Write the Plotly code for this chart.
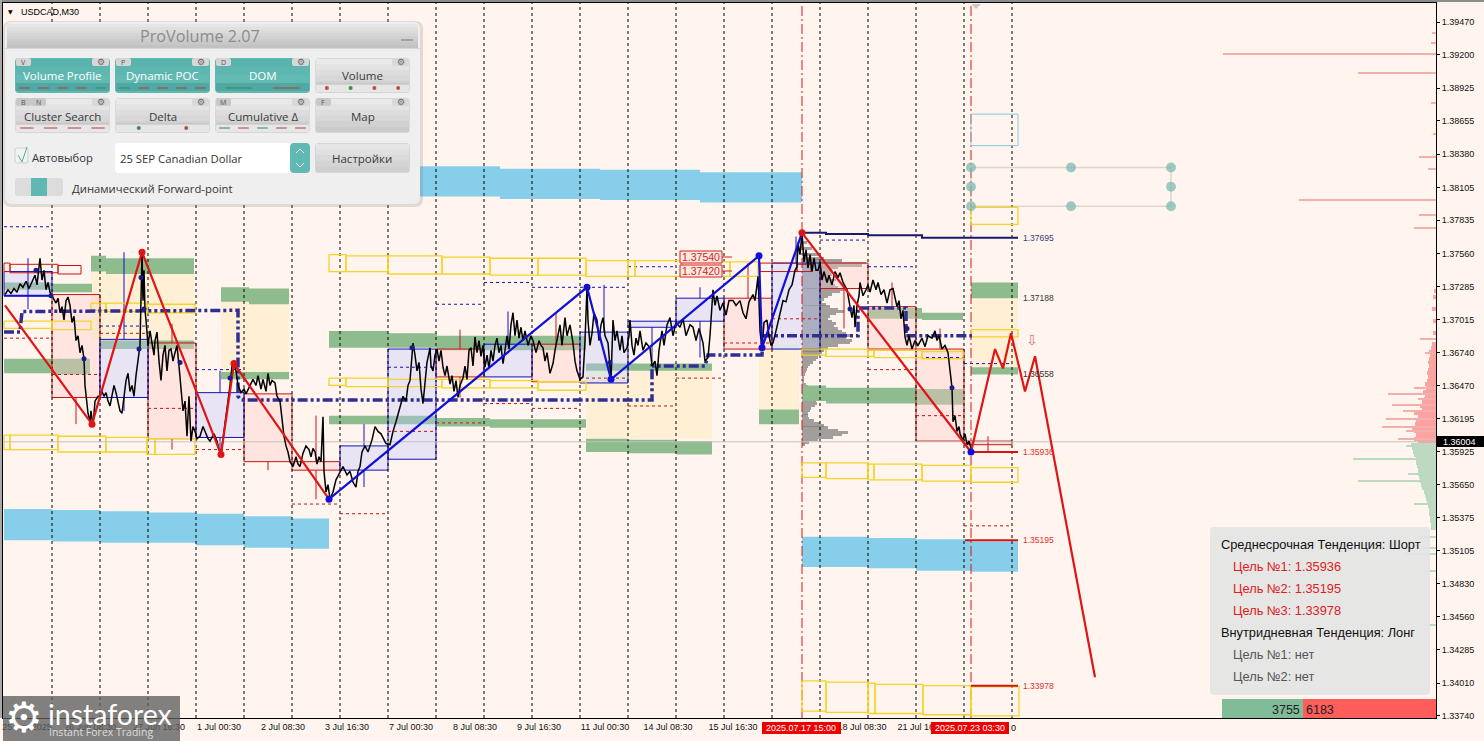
import plotly.graph_objects as go
import numpy as np

# ---------- DATA: x = M30 bar position on the chart, prices in pips (price*10000)
price_path = [(5,13722),(8,13726),(11,13723),(14,13727),(17,13724),(20,13731),(23,13728),(26,13733),(29,13727),(32,13732),(35,13738),(37,13730),(40,13752),(42,13734),(44,13742),(46,13726),(48,13732),(50,13724),(53,13719),(56,13715),(58,13719),(60,13707),(62,13712),(64,13701),(66,13717),(68,13720),(70,13713),(72,13699),(74,13704),(76,13684),(78,13688),(80,13674),(82,13680),(84,13669),(85,13647),(86,13638),(88,13624),(90,13617),(91,13626),(93,13613),(95,13634),(98,13638),(100,13638),(102,13642),(104,13638),(106,13641),(108,13634),(110,13630),(112,13638),(114,13647),(116,13641),(118,13634),(120,13626),(122,13624),(124,13636),(126,13651),(128,13657),(130,13642),(132,13647),(134,13638),(136,13655),(138,13667),(140,13680),(142,13757),(143,13717),(144,13742),(145,13709),(146,13701),(148,13680),(150,13692),(152,13682),(154,13672),(155,13684),(157,13691),(159,13667),(161,13651),(163,13672),(165,13680),(167,13659),(169,13676),(171,13677),(173,13667),(175,13674),(177,13680),(179,13663),(181,13647),(183,13626),(185,13634),(187,13605),(189,13638),(191,13601),(193,13613),(195,13609),(197,13603),(200,13605),(203,13613),(206,13607),(208,13603),(210,13601),(214,13607),(217,13601),(219,13594),(221,13590),(224,13609),(227,13626),(230,13647),(232,13663),(234,13665),(236,13659),(238,13647),(241,13641),(244,13644),(246,13640),(250,13647),(253,13652),(256,13647),(258,13655),(261,13644),(263,13652),(266,13642),(268,13657),(270,13647),(272,13651),(275,13649),(277,13638),(280,13634),(282,13617),(284,13605),(286,13597),(288,13592),(290,13584),(293,13580),(296,13588),(298,13582),(300,13580),(303,13591),(306,13597),(309,13594),(311,13588),(313,13595),(315,13592),(317,13582),(319,13588),(321,13584),(323,13621),(324,13576),(326,13559),(328,13565),(330,13553),(333,13559),(336,13569),(340,13576),(343,13580),(347,13573),(350,13576),(353,13567),(356,13563),(358,13576),(360,13580),(362,13592),(365,13597),(368,13592),(372,13602),(375,13613),(378,13609),(381,13607),(384,13602),(386,13599),(390,13598),(393,13609),(396,13617),(400,13630),(403,13638),(406,13634),(408,13647),(410,13651),(413,13682),(415,13672),(417,13659),(419,13666),(421,13644),(423,13632),(425,13651),(427,13666),(428,13670),(430,13678),(431,13663),(433,13659),(435,13672),(437,13677),(439,13667),(441,13676),(443,13662),(445,13655),(447,13663),(450,13648),(452,13655),(454,13642),(456,13651),(458,13637),(460,13647),(463,13653),(465,13663),(467,13652),(469,13676),(471,13678),(473,13663),(475,13687),(477,13674),(479,13684),(481,13671),(483,13680),(485,13662),(487,13672),(489,13661),(491,13676),(493,13667),(495,13680),(497,13686),(499,13674),(501,13680),(503,13665),(505,13676),(507,13688),(509,13677),(511,13697),(513,13707),(515,13688),(517,13701),(519,13686),(521,13695),(523,13684),(525,13692),(528,13680),(531,13688),(533,13684),(536,13674),(539,13684),(541,13680),(543,13678),(545,13667),(547,13674),(550,13657),(553,13665),(555,13676),(557,13684),(560,13697),(562,13680),(565,13703),(567,13688),(570,13697),(573,13682),(575,13667),(577,13659),(580,13652),(583,13654),(585,13684),(587,13728),(588,13701),(590,13680),(592,13690),(594,13707),(597,13701),(599,13684),(601,13697),(603,13703),(605,13688),(608,13682),(610,13663),(611,13652),(612,13676),(613,13701),(615,13684),(617,13692),(620,13676),(622,13688),(624,13674),(627,13678),(629,13688),(630,13701),(632,13680),(634,13672),(636,13686),(638,13680),(640,13692),(643,13676),(646,13682),(650,13678),(652,13663),(655,13667),(657,13655),(659,13676),(662,13692),(664,13680),(667,13697),(670,13703),(673,13688),(676,13699),(680,13695),(683,13702),(686,13688),(690,13697),(693,13695),(696,13684),(699,13694),(703,13682),(705,13667),(708,13670),(710,13688),(712,13717),(713,13726),(715,13713),(717,13721),(720,13709),(723,13715),(726,13705),(729,13717),(733,13717),(736,13713),(740,13717),(743,13707),(746,13702),(749,13716),(753,13722),(755,13717),(757,13730),(758,13737),(759,13717),(760,13692),(762,13678),(764,13699),(767,13701),(769,13688),(771,13680),(773,13682),(776,13692),(779,13702),(781,13711),(783,13717),(786,13716),(789,13726),(792,13730),(795,13742),(797,13745),(798,13765),(800,13755),(802,13773),(804,13749),(806,13759),(808,13744),(810,13755),(812,13741),(814,13752),(816,13742),(818,13742),(820,13749),(822,13734),(824,13741),(827,13732),(829,13738),(832,13730),(835,13741),(838,13736),(840,13740),(843,13732),(847,13726),(849,13717),(852,13703),(854,13713),(855,13695),(857,13713),(859,13721),(860,13732),(863,13721),(866,13726),(868,13730),(870,13724),(873,13734),(876,13726),(878,13732),(881,13722),(884,13726),(887,13715),(890,13726),(893,13727),(895,13719),(897,13712),(899,13717),(901,13702),(903,13709),(905,13687),(907,13680),(909,13688),(912,13677),(915,13684),(918,13680),(922,13686),(925,13679),(928,13688),(932,13686),(935,13692),(937,13684),(939,13688),(942,13677),(945,13680),(948,13674),(950,13659),(952,13645),(953,13617),(955,13622),(957,13609),(959,13613),(960,13607),(963,13602),(965,13607),(967,13598),(969,13601),(972,13592)]

red_zigzag  = [(5,13713),(92,13615),(142,13757),(221,13590),(234,13665),(329,13553)]
blue_zigzag = [(329,13553),(587,13728),(611,13652),(759,13754),(762,13678),(802,13773)]
red_down    = [(802,13773),(971,13592)]
forecast    = [(971,13592),(995,13677),(1003,13661),(1011,13690),(1025,13642),(1035,13671),(1095,13406)]
red_pivots  = [(92,13615),(142,13757),(221,13590),(234,13665),(802,13773)]
blue_pivots = [(329,13553),(587,13728),(611,13652),(759,13754),(762,13678),(971,13592)]
price_dots  = [(36,13742),(51,13721),(84,13669),(141,13736),(139,13677),(144,13710),(180,13666),(230,13653),(412,13678),(610,13666),(850,13710),(907,13694),(952,13645)]
poc_path    = [(4,13691),(20,13691),(22,13708),(238,13709),(238,13638),(241,13635),(652,13635),(652,13663),(705,13663),(708,13672),(762,13672),(763,13688),(858,13688),(858,13711),(906,13711),(906,13688),(972,13688)]

green_bands = [(4,52,13732,13726),(52,92,13731,13724),(4,52,13669,13657),(52,90,13669,13656),(91,106,13754,13741),(106,194,13752,13739),(100,194,13684,13677),(221,249,13728,13716),(249,289,13727,13714),(221,289,13658,13652),(329,388,13692,13678),(388,437,13690,13678),(437,586,13688,13676),(329,436,13622,13615),(436,490,13620,13613),(490,586,13619,13612),(586,712,13665,13659),(586,627,13603,13592),(627,677,13602,13591),(677,712,13601,13590),(759,799,13627,13615),(802,826,13647,13634),(826,916,13645,13632),(916,963,13644,13631),(868,922,13711,13702),(922,963,13707,13701),(971,1018,13732,13719),(971,1018,13662,13656)]
peach_bands = [(91,194,13741,13684),(221,289,13716,13658),(586,712,13659,13603),(759,799,13677,13627),(971,1018,13719,13662)]
pale_bands  = [(91,100,13715,13685),(586,627,13659,13652),(770,798,13681,13677)]
sky_bands   = [(340,500,13828,13803),(500,600,13826,13801),(600,700,13825,13800),(700,802,13823,13798),(4,52,13545,13519),(52,100,13544,13518),(100,148,13543,13517),(148,196,13542,13517),(196,244,13541,13515),(244,292,13539,13513),(292,329,13537,13512),(802,868,13522,13497),(868,916,13521,13496),(916,971,13520,13494),(971,1018,13518,13493)]
red_boxes   = [(52,100,13722,13637),(148,196,13682,13603),(244,292,13640,13584),(292,340,13584,13577),(436,484,13677,13654),(532,580,13681,13650),(724,772,13719,13677),(820,868,13748,13727),(868,916,13712,13677),(916,964,13677,13601),(964,1012,13601,13598)]
blue_boxes  = [(4,52,13741,13721),(100,148,13685,13637),(196,244,13641,13604),(340,388,13597,13577),(388,436,13677,13586),(484,532,13681,13654),(580,628,13691,13649),(628,676,13700,13695),(676,724,13719,13700),(772,820,13748,13677)]
red_wicks   = [(76,13637,13615),(172,13698,13682),(172,13603,13594),(268,13584,13577),(316,13622,13584),(316,13577,13553),(460,13693,13677),(460,13654,13637),(556,13707,13681),(748,13748,13719),(844,13727,13694),(892,13732,13712),(940,13694,13677),(988,13605,13592)]
blue_wicks  = [(28,13752,13710),(124,13757,13685),(124,13637,13626),(220,13659,13641),(220,13604,13590),(364,13615,13597),(364,13577,13563),(508,13708,13681),(604,13730,13691),(652,13695,13666),(700,13728,13719),(700,13700,13670),(796,13770,13748)]
gold_boxes  = [(4,52,13700,13694),(52,91,13700,13693),(91,106,13715,13709),(106,147,13715,13708),(147,195,13714,13707),(4,10,13606,13594),(10,58,13606,13594),(58,106,13605,13592),(106,147,13604,13592),(147,155,13603,13590),(155,195,13603,13590),(329,346,13755,13741),(346,388,13754,13741),(388,442,13754,13739),(442,490,13753,13739),(490,538,13752,13738),(538,586,13752,13738),(586,628,13750,13737),(628,635,13750,13737),(635,682,13750,13737),(682,730,13749,13737),(730,758,13749,13737),(329,346,13653,13647),(346,388,13653,13646),(388,442,13652,13646),(442,490,13652,13645),(490,538,13651,13645),(538,586,13650,13643),(802,826,13677,13672),(826,868,13677,13671),(868,874,13676,13671),(874,922,13676,13670),(922,963,13675,13669),(971,1018,13693,13687),(971,1018,13794,13780),(802,826,13583,13571),(826,868,13583,13570),(868,874,13582,13569),(874,922,13582,13569),(922,971,13581,13568),(971,1018,13579,13567),(802,826,13403,13378),(826,868,13402,13377),(868,875,13401,13376),(875,923,13400,13376),(923,971,13399,13375),(971,1019,13398,13374)]
darkred_boxes = [(4,10,13748,13741),(10,58,13747,13740),(58,81,13746,13739),(760,797,13748,13741),(797,811,13747,13741)]
sky_outline = [(971,1018,13871,13845)]
red_dashes  = [(4,52,13686),(52,100,13656),(100,148,13690),(148,196,13628),(196,244,13594),(292,340,13549),(340,388,13541),(388,436,13609),(436,484,13616),(484,532,13632),(532,580,13628),(580,628,13653),(628,676,13630),(676,724,13653),(724,772,13682),(772,820,13702),(868,916,13660),(916,964,13622),(964,1012,13531)]
blue_dashes = [(4,52,13778),(100,148,13696),(196,244,13660),(388,436,13662),(436,484,13714),(484,532,13732),(532,628,13728),(628,676,13745),(820,868,13767),(868,914,13745),(920,964,13670),(964,1010,13665)]
navy_line   = [(803,13773),(826,13773),(826,13772),(868,13772),(868,13771),(922,13771),(922,13769),(1018,13769)]
target_lines = [(971,1018,13592),(965,1018,13519),(971,1018,13399)]

profile_y   = [13773,13765,13760,13755,13752,13750,13748,13746,13744,13742,13740,13738,13736,13734,13732,13730,13728,13726,13724,13722,13720,13718,13716,13714,13712,13710,13708,13706,13704,13702,13700,13698,13696,13694,13692,13690,13688,13686,13684,13682,13680,13678,13676,13674,13672,13670,13668,13666,13664,13662,13660,13658,13656,13654,13652,13650,13648,13646,13644,13642,13640,13638,13636,13634,13632,13630,13628,13626,13624,13622,13620,13618,13616,13614,13612,13610,13608,13606,13604,13602,13600,13598]
profile_len = [3,5,10,18,22,40,64,60,36,30,33,30,28,34,30,33,36,42,38,30,26,22,20,24,28,36,42,34,28,26,30,34,32,36,40,44,49,44,50,48,36,26,22,20,18,16,14,11,8,6,5,4,3,2,2,2,4,6,7,9,10,11,13,14,15,13,9,8,6,6,7,12,18,22,26,36,46,40,31,16,7,3]

sell_mass_y   = [13600,13603,13606,13609,13612,13615,13618,13621,13624,13627,13630,13633,13636,13639,13642,13645,13648,13651,13654,13657,13660,13663,13666,13669,13672,13675,13678,13681,13690,13700,13710,13720,13725]
sell_mass_len = [18,22,20,22,24,21,20,18,22,14,16,14,12,11,13,10,11,9,8,9,8,7,8,7,6,7,5,4,3,3,4,3,2]
sell_spike_y   = [13603,13609,13613,13619,13626,13631,13636,13640,13645,13674,13685,13777,13788,13800,13826,13836,13855,13880,13905,13921,13930,13938]
sell_spike_len = [38,30,54,50,33,44,18,48,22,11,16,22,17,137,8,17,3,5,78,213,5,4]
buy_mass_y   = [13598,13595,13592,13589,13586,13583,13580,13577,13574,13571,13568,13565,13562,13559,13556,13553,13550,13547,13544,13541,13538,13535,13532,13529]
buy_mass_len = [25,24,23,22,20,20,19,18,18,17,16,15,14,12,11,10,9,8,7,7,6,6,5,5]
buy_spike_y   = [13597,13586,13574,13568,13549,13522,13513,13508,13494,13449]
buy_spike_len = [30,83,28,78,22,17,46,32,13,9]

teal_x = [971,1071,1171,971,1171,971,1071,1171]
teal_p = [13827,13827,13827,13811,13811,13795,13795,13795]
grid_days = [52,100,148,196,244,292,340,388,436,484,532,580,628,676,724,772,820,868,916,964,1012]
event_bars = [802,971]
y_ticks = [1.39470,1.39200,1.38925,1.38655,1.38380,1.38105,1.37835,1.37560,1.37285,1.37015,1.36740,1.36470,1.36195,1.35925,1.35650,1.35375,1.35105,1.34830,1.34560,1.34285,1.34010,1.33740]
x_tick_pos = [27,90,159,219,283,347,411,475,539,605,668,733,862,922]
x_tick_txt = ["25 Jun 2025","26 Jun 08:30","27 Jun 16:30","1 Jul 00:30","2 Jul 08:30","3 Jul 16:30","7 Jul 00:30","8 Jul 08:30","9 Jul 16:30","11 Jul 00:30","14 Jul 08:30","15 Jul 16:30","18 Jul 08:30","21 Jul 16:30"]
last_price = 13600.4
fc_labels = [(1021,13769,"1.37695","#3a3a78"),(1021,13719,"1.37188","#333333"),(1021,13656,"1.36558","#333333"),(1021,13592,"1.35936","#e03030"),(1021,13519,"1.35195","#e03030"),(1021,13399,"1.33978","#e03030")]
ladder_rows = [("Среднесрочная Тенденция: Шорт","#111111",1220),("Цель №1: 1.35936","#e02020",1232),("Цель №2: 1.35195","#e02020",1232),("Цель №3: 1.33978","#e02020",1232),("Внутридневная Тенденция: Лонг","#111111",1220),("Цель №1: нет","#555555",1232),("Цель №2: нет","#555555",1232)]

L, R, T, B = 4, 1436, 4, 718
ML, MT = 3, 3
W, H = 1484, 741
BG = "#FFF5EE"
P = lambda v: v / 10000.0
fig = go.Figure()

def line(xs, ps, color, width=1, dash="solid", mode="lines", **kw):
    fig.add_trace(go.Scatter(x=xs, y=ps, mode=mode, line=dict(color=color, width=width, dash=dash), hoverinfo="skip", showlegend=False, **kw))

def rects(boxes, fill=None, color=None, width=1):
    xs, ys = [], []
    for b in boxes:
        x0, x1, hi, lo = b
        xs += [x0, x1, x1, x0, x0, None]
        ys += [P(hi), P(hi), P(lo), P(lo), P(hi), None]
    fig.add_trace(go.Scatter(x=xs, y=ys, mode="lines", fill="toself" if fill else None, fillcolor=fill,
                             line=dict(color=color or "rgba(0,0,0,0)", width=width), hoverinfo="skip", showlegend=False))

def segs(items, color, width=1, dash="solid", vertical=False):
    xs, ys = [], []
    for it in items:
        if vertical:
            xs += [it[0], it[0], None]; ys += [P(it[1]), P(it[2]), None]
        else:
            xs += [it[0], it[1], None]; ys += [P(it[2]), P(it[2]), None]
    line(xs, ys, color, width, dash)

def path(pts, color, width, dash="solid"):
    line([p[0] for p in pts], [P(p[1]) for p in pts], color, width, dash)

def hbars(levels, lengths, base, sign, color, thick):
    fig.add_trace(go.Bar(orientation="h", y=[P(v) for v in levels], x=[sign * v for v in lengths], base=base, width=thick,
                         marker=dict(color=color, line=dict(width=0)), hoverinfo="skip", showlegend=False))

rects(sky_bands, fill="#87CEEB")
rects(peach_bands, fill="#FFEFD5")
rects(pale_bands, fill="#F4FBD2")
rects(green_bands, fill="#8FBC8F")
rects(red_boxes, fill="rgba(255,200,200,0.38)", color="#C81414")
rects(blue_boxes, fill="rgba(190,200,255,0.36)", color="#1212C0")

ymin, ymax = 1.33723, 1.39628
xs, ys = [], []
for g in grid_days:
    xs += [g, g, None]; ys += [ymin, ymax, None]
line(xs, ys, "#000000", 1, "3px,3px")
xs, ys = [], []
for g in event_bars:
    xs += [g, g, None]; ys += [ymin, ymax, None]
line(xs, ys, "#D01818", 1, "10px,3px,2px,3px")

segs(red_wicks, "#C81414", 1, vertical=True)
segs(blue_wicks, "#1212C0", 1, vertical=True)
segs(red_dashes, "#C81414", 1, "3px,3px")
segs(blue_dashes, "#1212C0", 1, "3px,3px")
rects(gold_boxes, color="#F5D327", width=1.3)
rects(darkred_boxes, color="#C81414", width=1)
rects(sky_outline, color="#8CC6DC", width=1)

# last price line
line([L, R], [P(last_price), P(last_price)], "#C4C0BC", 1)

# volume profiles
hbars(profile_y, profile_len, 802, 1, "rgba(125,125,125,0.72)", 0.00021)
hbars(sell_mass_y, sell_mass_len, 1436, -1, "#FBA3A0", 0.00031)
hbars(sell_spike_y, sell_spike_len, 1436, -1, "#F5AFAA", 0.00010)
hbars(buy_mass_y, buy_mass_len, 1436, -1, "#BDD9C2", 0.00031)
hbars(buy_spike_y, buy_spike_len, 1436, -1, "#BDD9C2", 0.00010)

path(poc_path, "#2E2E96", 3.5, "10px,3px,3px,3px,3px,3px")
path(price_path, "#000000", 1.5)
segs([(4,52,13721)], "#1212C0", 2)
path(navy_line, "#191970", 2)
for x0, x1, p in target_lines:
    segs([(x0, x1, p)], "#D41414", 2)

path(red_zigzag, "#E01414", 2.2)
path(blue_zigzag, "#1010D8", 2.2)
path(red_down, "#E01414", 2.2)
path(forecast, "#E01414", 2.2)
fig.add_trace(go.Scatter(x=[p[0] for p in price_dots], y=[P(p[1]) for p in price_dots], mode="markers",
                         marker=dict(size=5, color="#1C1C88"), hoverinfo="skip", showlegend=False))
fig.add_trace(go.Scatter(x=[p[0] for p in red_pivots], y=[P(p[1]) for p in red_pivots], mode="markers",
                         marker=dict(size=7, color="#E01414"), hoverinfo="skip", showlegend=False))
fig.add_trace(go.Scatter(x=[p[0] for p in blue_pivots], y=[P(p[1]) for p in blue_pivots], mode="markers",
                         marker=dict(size=7, color="#1010D8"), hoverinfo="skip", showlegend=False))

# drawing-tool rectangle
line([971,1171,None,971,1171,None,971,971,None,1171,1171],
     [P(13827),P(13827),None,P(13795),P(13795),None,P(13827),P(13795),None,P(13827),P(13795)], "rgba(170,165,160,0.4)", 1.5)
fig.add_trace(go.Scatter(x=teal_x, y=[P(v) for v in teal_p], mode="markers",
                         marker=dict(size=10, color="rgba(120,185,178,0.72)"), hoverinfo="skip", showlegend=False))

# ---------- page furniture, given in pixels of the window
fx = lambda x: (x - ML) / (R - ML)
fy = lambda y: 1 - (y - MT) / (B - MT)
shapes, notes = [], []

def rr(x0, y0, x1, y1, fill, r=4, line_color=None, lw=1, op=1):
    a, b, c, d = fx(x0), fx(x1), fy(y0), fy(y1)
    rx, ry = r / (R - ML), r / (B - MT)
    pth = (f"M {a+rx} {c} L {b-rx} {c} Q {b} {c} {b} {c-ry} L {b} {d+ry} Q {b} {d} {b-rx} {d} "
           f"L {a+rx} {d} Q {a} {d} {a} {d+ry} L {a} {c-ry} Q {a} {c} {a+rx} {c} Z")
    shapes.append(dict(type="path", path=pth, xref="paper", yref="paper", fillcolor=fill, layer="above", opacity=op,
                       line=dict(color=line_color or "rgba(0,0,0,0)", width=lw if line_color else 0)))

def box(x0, y0, x1, y1, fill, op=1):
    shapes.append(dict(type="rect", x0=fx(x0), x1=fx(x1), y0=fy(y1), y1=fy(y0), xref="paper", yref="paper",
                       fillcolor=fill, opacity=op, layer="above", line=dict(width=0)))

def seg(x0, y0, x1, y1, color, w=1):
    shapes.append(dict(type="line", x0=fx(x0), x1=fx(x1), y0=fy(y0), y1=fy(y1), xref="paper", yref="paper",
                       layer="above", line=dict(color=color, width=w)))

def txt(x, y, s, size=12, color="#333333", anchor="center", font="Open Sans", bg=None):
    notes.append(dict(x=fx(x), y=fy(y), xref="paper", yref="paper", text=s, showarrow=False, xanchor=anchor, yanchor="middle",
                      font=dict(size=size, color=color, family=font), bgcolor=bg, borderpad=0))

def shade(x0, y0, x1, y1, c0, c1, n=5):
    a = np.array([int(c0[i:i+2], 16) for i in (1, 3, 5)]); b = np.array([int(c1[i:i+2], 16) for i in (1, 3, 5)])
    for i in range(n):
        col = a + (b - a) * i / (n - 1)
        box(x0, y0 + (y1 - y0) * i / n, x1, y0 + (y1 - y0) * (i + 1) / n + 0.3, "#%02x%02x%02x" % tuple(int(v) for v in col))

# window frame strips
box(0, 0, W, 2, "#8C8C8C")
box(0, 0, 2, 718, "#A8A8A8")

# panel
rr(3, 21, 423, 207, "rgba(120,120,120,0.22)", r=8)
rr(5, 22, 420, 204, "#EFEFEF", r=7)
shade(7, 24, 418, 48, "#E6E6E6", "#C2C2C2", 8)
box(5, 48, 420, 49, "#D6D6D6")
txt(200, 36, "ProVolume 2.07", 16.2, "#8C8C8C")
seg(401, 40, 413, 40, "#A0A0A0", 2)

def button(x0, y0, x1, y1, label, teal=False, chips=(), gear=True, strip=None, strip_col=None):
    rr(x0, y0, x1, y1, "#5FB8B1" if teal else "#D9D9D9", r=4, line_color=None)
    if teal:
        shade(x0 + 1, y0 + 1, x1 - 1, y1 - 10, "#58B4AD", "#62BAB3", 3)
        box(x0 + 1, y1 - 10, x1 - 1, y1 - 2, "#4FA8A1")
    else:
        shade(x0 + 1, y0 + 1, x1 - 1, y1 - 1, "#E9E9E9", "#CBCBCB", 6)
    cx = (x0 + x1) / 2
    if strip:
        n = len(strip)
        w = (x1 - x0) / n
        if not teal:
            box(x0 + 1, y1 - 9, x1 - 1, y1 - 1, "#E6E6E6")
            seg(x0 + 1, y1 - 9, x1 - 1, y1 - 9, "#BDBDBD", 1)
        for i, k in enumerate(strip):
            mx = x0 + w * (i + 0.5)
            if strip_col == "dot":
                shapes.append(dict(type="circle", x0=fx(mx - 2), x1=fx(mx + 2), y0=fy(y1 - 3), y1=fy(y1 - 7), xref="paper", yref="paper",
                                   fillcolor="#3F8A55" if k == "g" else "#B85050", layer="above", line=dict(width=0)))
            else:
                seg(mx - w * 0.28, y1 - 5, mx + w * 0.28, y1 - 5, "#2E8B57" if k == "g" else "#B83A3A", 1)
    txt(cx, y0 + 18, label, 11.5, "#FFFFFF" if teal else "#3A3A3A")
    off = 0
    for ch in chips:
        rr(x0 + 1 + off, y0, x0 + 16 + off, y0 + 8, "#C8C8C8" if not teal else "#D5D5D5", r=2)
        txt(x0 + 8 + off, y0 + 4.5, ch, 7, "#555555")
        off += 15
    if gear:
        rr(x1 - 18, y0, x1 - 1, y0 + 8, "#D8D8D8", r=2)
        txt(x1 - 9, y0 + 4, "⚙", 9, "#666666", font="DejaVu Sans")

button(15, 58, 110, 93, "Volume Profile", True, ["V"], strip="rrrrg")
button(115, 58, 210, 93, "Dynamic POC", True, ["P"], strip="grrrr")
button(215, 58, 310, 93, "DOM", True, ["D"], strip="gr")
button(315, 58, 410, 93, "Volume", False, [], strip="rgrr", strip_col="dot")
button(15, 98, 110, 133, "Cluster Search", False, ["B", "N"], strip="rrrr")
button(115, 98, 210, 133, "Delta", False, [], strip="gr", strip_col="dot")
button(215, 98, 310, 133, "Cumulative Δ", False, ["M"], strip="grgrr")
button(315, 98, 410, 133, "Map", False, ["F"])

rr(15, 148, 28, 163, "#F2F2F2", r=2, line_color="#CFCFCF")
seg(18, 155, 22, 162, "#4FB0A9", 1); seg(22, 162, 27, 147, "#4FB0A9", 1)
txt(31, 157, "Автовыбор", 11.2, "#333333", "left")
rr(115, 143, 310, 173, "#FFFFFF", r=4)
rr(290, 143, 310, 173, "#5FB8B1", r=4)
txt(119, 158, "25 SEP Canadian Dollar", 11.3, "#333333", "left")
seg(296, 153, 300, 149, "#E8F5F4", 1); seg(300, 149, 304, 153, "#E8F5F4", 1)
seg(296, 163, 300, 167, "#E8F5F4", 1); seg(300, 167, 304, 163, "#E8F5F4", 1)
rr(315, 143, 410, 173, "#D5D5D5", r=4)
shade(316, 144, 409, 172, "#E6E6E6", "#CFCFCF", 5)
txt(362, 158, "Настройки", 11.5, "#3A3A3A")
rr(15, 178, 63, 196, "#DCDCDC", r=3)
box(31, 178, 47, 196, "#5FB8B1")
txt(71, 188, "Динамический Forward-point", 11.3, "#333333", "left")

# targets panel
rr(1210, 527, 1430, 695, "#E4E4E4", r=4, op=0.92)
for i, (s, c, xx) in enumerate(ladder_rows):
    txt(xx, 544 + i * 22, s, 12.8, c, "left", "Liberation Sans")
box(1222, 699, 1303, 718, "#7FBC97")
box(1303, 699, 1436, 718, "#FF5C5C")
txt(1301, 709.5, "3755", 12.5, "#222222", "right", "Liberation Sans")
txt(1305, 709.5, "6183", 12.5, "#222222", "left", "Liberation Sans")

# current price tag, symbol, labels
box(1437, 436, 1484, 447, "#000000")
txt(1459, 441.5, "1.36004", 9, "#FFFFFF", font="Liberation Sans")
txt(7, 12, "▼", 6, "#000000", "left", "DejaVu Sans")
txt(20, 12, "USDCAD,M30", 9, "#000000", "left", "Liberation Sans")

# stacked price boxes
rr(680, 251, 722, 263, "#FDE9DF", r=0, line_color="#D22222", lw=1)
rr(680, 265, 722, 277, "#FDE9DF", r=0, line_color="#D22222", lw=1)
txt(701, 257, "1.37540", 10.5, "#D22222", font="Liberation Sans")
txt(701, 271, "1.37420", 10.5, "#D22222", font="Liberation Sans")
seg(722, 257, 732, 257, "#D22222", 1); seg(722, 271, 732, 271, "#D22222", 1)

for x, p, s, c in fc_labels:
    notes.append(dict(x=x, y=P(p), xref="x", yref="y", text=s, showarrow=False, xanchor="left", yanchor="middle",
                      font=dict(size=8.5, color=c, family="Liberation Sans")))
txt(1032, 340, "⇩", 14, "#F07070", font="DejaVu Sans")
shapes.append(dict(type="path", path=f"M {fx(971)} {fy(4)} L {fx(981)} {fy(4)} L {fx(976)} {fy(9)} Z", xref="paper", yref="paper",
                   fillcolor="#C8C8C8", layer="above", line=dict(width=0)))

# time stamps in red
box(762, 722, 841, 734, "#EE0000")
txt(801.5, 728, "2025.07.17 15:00", 9, "#FFFFFF", font="Liberation Sans")
box(931, 722, 1009, 734, "#EE0000")
txt(970, 728, "2025.07.23 03:30", 9, "#FFFFFF", font="Liberation Sans")
txt(1010, 728, "0", 9, "#000000", "left", "Liberation Sans")

# logo
box(3, 696, 180, 741, "#5F5F5F", 0.78)
txt(24, 717, "⚙", 42, "#FFFFFF", font="DejaVu Sans")
txt(47, 714, "instaforex", 28.5, "#FFFFFF", "left", "Lato")
txt(48, 732, "Instant Forex Trading", 10.5, "#DDDDDD", "left", "Open Sans")

fig.update_layout(
    width=W, height=H, margin=dict(l=ML, r=W - R, t=MT, b=H - B), paper_bgcolor=BG, plot_bgcolor=BG,
    barmode="overlay", bargap=0, showlegend=False, shapes=shapes, annotations=notes, hovermode=False,
    xaxis=dict(range=[ML, R], showgrid=False, zeroline=False, tickmode="array", tickvals=x_tick_pos, ticktext=x_tick_txt,
               ticks="", tickfont=dict(size=9, color="#111111", family="Liberation Sans"), tickangle=0,
               showline=True, linecolor="#000000", linewidth=1, mirror=True),
    yaxis=dict(range=[ymin, ymax], side="right", showgrid=False, zeroline=False, tickmode="array", tickvals=y_ticks,
               ticktext=[f"{v:.5f}" for v in y_ticks], ticks="outside", ticklen=3, tickcolor="#000000",
               tickfont=dict(size=9, color="#111111", family="Liberation Sans"),
               showline=True, linecolor="#000000", linewidth=1, mirror=True),
    font=dict(family="Liberation Sans"),
)
fig.write_html("out.html", config=dict(displayModeBar=False), post_script="document.body.style.margin='0';document.documentElement.style.overflow='hidden';")
